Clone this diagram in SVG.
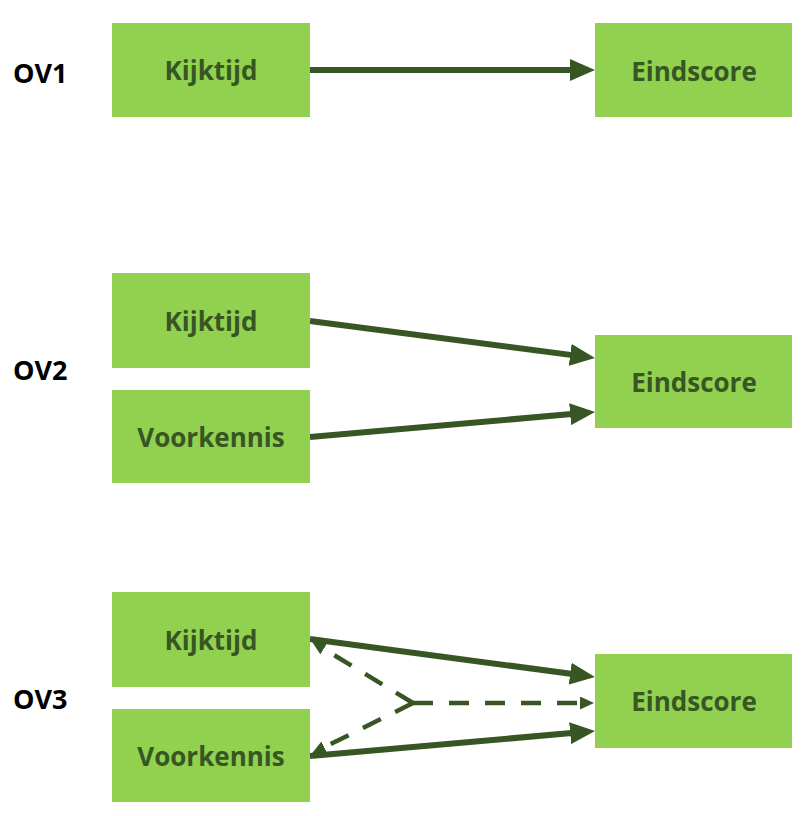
<svg xmlns="http://www.w3.org/2000/svg" width="806" height="816" viewBox="0 0 806 816">
<style>
.box{fill:#92D050}
.t{font-family:"Open Sans","Noto Sans","Liberation Sans",sans-serif;font-weight:bold;font-size:26px;fill:#375623;text-anchor:middle;dominant-baseline:central}
.ov{font-family:"Open Sans","Noto Sans","Liberation Sans",sans-serif;font-weight:bold;font-size:27px;fill:#000;dominant-baseline:central}
.a{stroke:#375623;stroke-width:6;fill:none;marker-end:url(#ah)}
.d{stroke:#375623;stroke-width:4.5;fill:none;stroke-dasharray:20 16;marker-end:url(#dh)}
</style>
<defs>
<marker id="ah" markerUnits="userSpaceOnUse" markerWidth="25" markerHeight="22" refX="10" refY="11" orient="auto"><path d="M0,0 L25,11 L0,22 z" fill="#375623"/></marker>
<marker id="dh" markerUnits="userSpaceOnUse" markerWidth="14" markerHeight="13" refX="5" refY="6.5" orient="auto"><path d="M0,0 L14,6.5 L0,13 z" fill="#375623"/></marker>
</defs>
<rect width="806" height="816" fill="#fff"/>
<text class="ov" x="13" y="72">OV1</text>
<text class="ov" x="13" y="369">OV2</text>
<text class="ov" x="13" y="698">OV3</text>
<g id="connectors">
<path class="a" d="M310,70 L580,70"/>
<path class="a" d="M310,321 L580.1,356.1"/>
<path class="a" d="M310,437 L580.1,413.3"/>
<path class="a" d="M310,639 L580.1,675"/>
<path class="a" d="M310,756 L580.1,732.3"/>
<path class="d" d="M413,703 L585,703"/>
<path class="d" d="M413,703 L319.5,646.2"/>
<path class="d" d="M413,703 L319.9,749.5"/>
</g>
<g id="ov1-kijktijd"><rect class="box" x="112" y="23" width="198" height="94"/><text class="t" x="211" y="70">Kijktijd</text></g>
<g id="ov1-eindscore"><rect class="box" x="595" y="23" width="197" height="94"/><text class="t" x="694" y="71">Eindscore</text></g>
<g id="ov2-kijktijd"><rect class="box" x="112" y="273" width="198" height="95"/><text class="t" x="211" y="321">Kijktijd</text></g>
<g id="ov2-voorkennis"><rect class="box" x="112" y="390" width="198" height="93"/><text class="t" x="211" y="437">Voorkennis</text></g>
<g id="ov2-eindscore"><rect class="box" x="595" y="335" width="197" height="93"/><text class="t" x="694" y="382">Eindscore</text></g>
<g id="ov3-kijktijd"><rect class="box" x="112" y="592" width="198" height="95"/><text class="t" x="211" y="640">Kijktijd</text></g>
<g id="ov3-voorkennis"><rect class="box" x="112" y="709" width="198" height="93"/><text class="t" x="211" y="756">Voorkennis</text></g>
<g id="ov3-eindscore"><rect class="box" x="595" y="654" width="197" height="94"/><text class="t" x="694" y="701">Eindscore</text></g>
</svg>
